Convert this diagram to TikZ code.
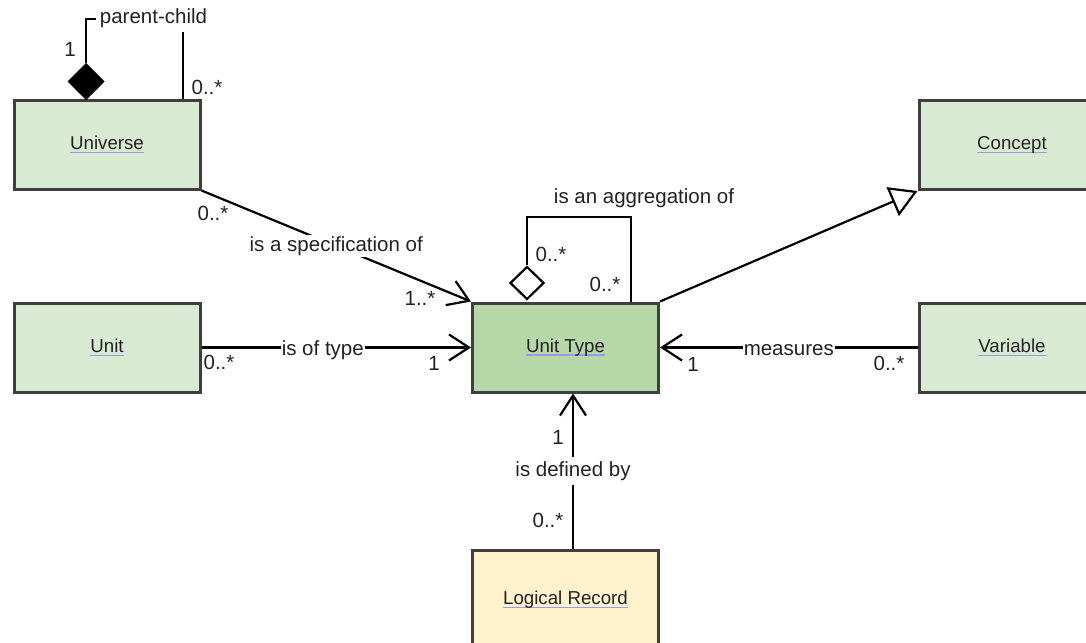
\documentclass[tikz,border=0pt]{standalone}
\usepackage{fontspec}
\setmainfont{Liberation Sans}
\usetikzlibrary{arrows.meta,shapes.geometric}
\definecolor{lgreen}{HTML}{D9EAD3}
\definecolor{dgreen}{HTML}{B6D7A8}
\definecolor{lyellow}{HTML}{FFF2CC}
\definecolor{bordc}{HTML}{3F3F3F}
\definecolor{txtc}{HTML}{222222}
\definecolor{ulc}{HTML}{9A9AEE}
\newcommand\ulbl[1]{\setbox0\hbox{#1}\rlap{\color{ulc}\rule[-3.2pt]{\wd0}{1.1pt}}\box0}
\tikzset{
  cls/.style={draw=bordc, line width=3pt, minimum width=186pt, minimum height=89pt, inner sep=0pt, text=txtc, font=\fontsize{18.7}{22}\selectfont},
  conn/.style={draw=black, line width=2.2pt},
  barb/.style={-{Straight Barb[length=20pt,width=26pt,line width=2.2pt]}},
  gen/.style={-{Triangle[length=27pt,width=31pt,fill=white,line width=2.2pt]}},
  lbl/.style={fill=white, inner sep=1.5pt, text=txtc, font=\fontsize{20.5}{24}\selectfont},
  mult/.style={inner sep=0pt, text=txtc, font=\fontsize{20.5}{24}\selectfont},
}
\begin{document}
\begin{tikzpicture}[x=1pt,y=-1pt]
\useasboundingbox (0,0) rectangle (1086,642);
\clip (0,0) rectangle (1086,642);
\fill[white] (0,0) rectangle (1086,642);
% classes
\node[cls, fill=lgreen] (univ) at (107,144.5) {\raisebox{-1.5pt}{\ulbl{Universe}}};
\node[cls, fill=lgreen] (concept) at (1012,145) {\raisebox{-1.5pt}{\ulbl{Concept}}};
\node[cls, fill=lgreen] (unit) at (107,347.5) {\raisebox{-1.5pt}{\ulbl{Unit}}};
\node[cls, fill=dgreen] (ut) at (565.5,347.5) {\raisebox{-1.5pt}{\ulbl{Unit Type}}};
\node[cls, fill=lgreen] (var) at (1012,347.5) {\raisebox{-1.5pt}{\ulbl{Variable}}};
\node[cls, fill=lyellow, minimum height=100pt] (lr) at (565.5,600) {\raisebox{3pt}{\ulbl{Logical Record}}};
% parent-child composition
\node[diamond, fill=black, draw=black, line width=1pt, minimum width=36pt, minimum height=36pt, inner sep=0pt] (pcd) at (86,81.5) {};
\coordinate (pcc) at (183,19);
\draw[conn] (pcd.north) |- (pcc) -- (pcc |- univ.north);
\node[lbl, inner sep=3.5pt] (pcl) at (153.5,18.5) {parent-child};
\node[mult] (m1) at (70,49) {1};
\node[mult] (m2) at (207,87) {0..*};
% specification
\draw[conn, barb] (univ.south east) -- (ut.north west) node[lbl, pos=0.5] (spl) {is a specification of};
\node[mult] (m3) at (213,213) {0..*};
\node[mult] (m4) at (420,298) {1..*};
% aggregation
\node[diamond, fill=white, draw=black, line width=2.2pt, minimum width=34pt, minimum height=33pt, inner sep=0pt] (agd) at (527,283) {};
\coordinate (agc) at (631,217);
\draw[conn] (agd.north) |- (agc) -- (agc |- ut.north);
\node[mult] (agl) at (644,198) {is an aggregation of};
\node[mult] (m5) at (551,254) {0..*};
\node[mult] (m6) at (605,284) {0..*};
% generalization
\draw[conn, gen] (ut.north east) -- (concept.south west);
% is of type
\draw[conn, barb] (unit.east) -- (ut.west) node[lbl, pos=0.45, yshift=-2.5pt, inner sep=1pt] (otl) {is of type};
\node[mult] (m7) at (219,362) {0..*};
\node[mult] (m8) at (434,363) {1};
% measures
\draw[conn, barb] (var.west) -- (ut.east) node[lbl, pos=0.5, yshift=-2.5pt, inner sep=1pt] (mel) {measures};
\node[mult] (m9) at (693,364) {1};
\node[mult] (m10) at (889,363) {0..*};
% is defined by
\draw[conn, barb] ([xshift=7.5pt]lr.north) -- ([xshift=7.5pt]ut.south) node[lbl, pos=0.5, inner sep=4pt] (dbl) {is defined by};
\node[mult] (m11) at (558,437) {1};
\node[mult] (m12) at (548,520) {0..*};
\end{tikzpicture}
\end{document}
